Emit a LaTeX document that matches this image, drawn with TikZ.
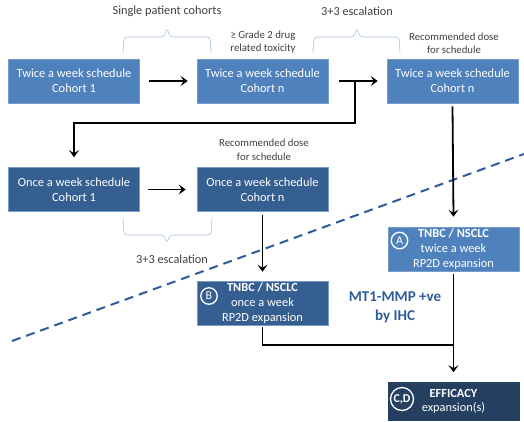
\documentclass[tikz,border=0pt]{standalone}
\usepackage{fontspec}
\setmainfont{Carlito}
\usetikzlibrary{arrows.meta}
\definecolor{lightbox}{HTML}{4F81BD}
\definecolor{darkbox}{HTML}{365F91}
\definecolor{darkestbox}{HTML}{243F60}
\definecolor{boxedge}{HTML}{7A9CCB}
\definecolor{bracecol}{HTML}{A9C1DF}
\definecolor{labelblue}{HTML}{2F5C99}
\definecolor{txt}{HTML}{404040}
\begin{document}
\begin{tikzpicture}[x=1pt,y=-1pt,
 box/.style={draw=boxedge, line width=0.6pt, minimum width=131pt, minimum height=44pt, text=white, align=center, font=\fontsize{12.4}{15}\selectfont, inner sep=0pt},
 light/.style={box, fill=lightbox},
 dark/.style={box, fill=darkbox},
 darkest/.style={box, fill=darkestbox, draw=darkestbox, minimum height=38pt, font=\fontsize{12.4}{14}\selectfont},
 conn/.style={line width=1.8pt, -{Stealth[length=7pt,width=10pt,inset=3pt]}},
 plain/.style={line width=1.8pt},
 lbl/.style={text=txt, font=\fontsize{12.3}{15}\selectfont, inner sep=0pt},
 slbl/.style={text=txt, font=\fontsize{10.8}{13.5}\selectfont, align=center, inner sep=0pt},
 bracepath/.style={draw=bracecol, line width=0.6pt, rounded corners=3pt},
 badge/.style={circle, draw=white, line width=1.3pt, text=white, font=\fontsize{12}{12}\selectfont, inner sep=0pt, minimum size=16.5pt},
 dashline/.style={draw=labelblue, line width=2pt, dash pattern=on 9pt off 6pt}
]
\useasboundingbox[fill=white] (0,0) rectangle (524,421);

% boxes
\node[light] (t1) at (74,81) {Twice a week schedule\\Cohort 1};
\node[light] (t2) at (262.5,81) {Twice a week schedule\\Cohort n};
\node[light] (t3) at (452.5,81) {Twice a week schedule\\Cohort n};
\node[dark] (o1) at (74,189.5) {Once a week schedule\\Cohort 1};
\node[dark] (o2) at (262.5,189.5) {Once a week schedule\\Cohort n};
\node[light] (a) at (453.5,249) {\textbf{TNBC / NSCLC}\\twice a week\\RP2D expansion};
\node[dark] (b) at (262.5,303) {\textbf{TNBC / NSCLC}\\once a week\\RP2D expansion};
\node[darkest] (cd) at (453.5,401.5) {\textbf{EFFICACY}\\expansion(s)};

% badges
\node[badge] (ba) at (399.5,240.5) {A};
\node[badge] (bb) at (209,296) {B};
\node[badge, minimum size=23pt, font=\bfseries\fontsize{12}{12}\selectfont] (bcd) at (402,399) {C,D};

% labels
\node[lbl] (l1) at (167,11) {Single patient cohorts};
\node[lbl] (l2) at (357,11) {3+3 escalation};
\node[slbl] (l3) at (263,42) {≥ Grade 2 drug\\related toxicity};
\node[slbl] (l4) at (454,43.5) {Recommended dose\\for schedule};
\node[slbl] (l5) at (264,150) {Recommended dose\\for schedule};
\node[lbl] (l6) at (172,259) {3+3 escalation};
\node[text=labelblue, font=\bfseries\fontsize{15}{19}\selectfont, align=center, inner sep=0pt] (mt) at (395,307.5) {MT1-MMP +ve\\by IHC};

% braces
\path[bracepath] (123,53) -- (124,37) -- (164,37) -- (167,28) -- (170,37) -- (210,37) -- (211,53);
\path[bracepath] (313,53) -- (314,37) -- (354,37) -- (357,28) -- (360,37) -- (399,37) -- (400,53);
\path[bracepath] (123,218) -- (124,235) -- (164,235) -- (167,243) -- (170,235) -- (211,235) -- (212,218);

% dashed divider
\coordinate (d1) at (12,341);
\coordinate (d2) at (524,154);
\draw[dashline] (d1) -- (d2);

% connectors
\draw[conn] ([xshift=9pt]t1.east) -- ([xshift=-9pt]t2.west);
\draw[conn] ([xshift=11pt]t2.east) -- ([xshift=-9pt]t3.west);
\coordinate (j1) at (355,81);
\draw[conn] (j1) -- ++(0,42) -| ([yshift=10pt]o1.north);
\draw[conn] ([xshift=8pt]o1.east) -- ([xshift=-11pt]o2.west);
\draw[conn] ([yshift=-3pt]o2.south) -- ([yshift=9pt]b.north);
\draw[conn] ([yshift=-3pt]t3.south) -- ([yshift=10pt]a.north);
\draw[conn] ([yshift=-3pt]a.south) -- ([yshift=10pt]cd.north);
\coordinate (j2) at (453.5,345);
\draw[plain] ([yshift=-2pt]b.south) |- (j2);
\end{tikzpicture}
\end{document}
